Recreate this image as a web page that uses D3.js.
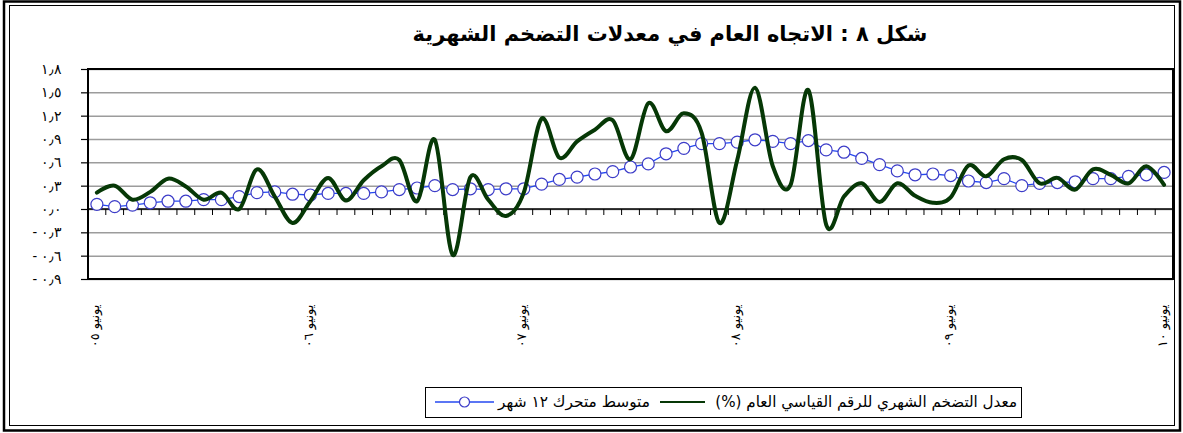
<!DOCTYPE html>
<meta charset="utf-8">
<head>
<style>
body { margin: 0; background: #fff; }
svg { display: block; font-family: "DejaVu Sans", sans-serif; }
.grid line { stroke: #9c9c9c; stroke-width: 1.5; }
.grid path, .yaxis path { display: none; }
.yaxis line { stroke: #000; stroke-width: 1.2; }
.yaxis text { font-size: 14px; fill: #000; letter-spacing: 1px; }
</style>
</head>
<body>
<div id="chart"></div>
<script src="https://d3js.org/d3.v7.min.js"></script>
<script>

// monthly inflation rate, general CPI (%) - June 05 .. June 10
var monthly = [0.21, 0.30, 0.12, 0.22, 0.39, 0.29, 0.12, 0.21, 0.00, 0.51,
               0.16, -0.18, 0.10, 0.40, 0.11, 0.37, 0.55, 0.63, 0.10, 0.89,
               -0.59, 0.41, 0.12, -0.09, 0.21, 1.16, 0.66, 0.87, 1.02, 1.14,
               0.64, 1.36, 1.00, 1.23, 0.98, -0.18, 0.63, 1.56, 0.55, 0.31,
               1.53, -0.20, 0.16, 0.33, 0.09, 0.33, 0.17, 0.08, 0.15, 0.56,
               0.42, 0.64, 0.63, 0.33, 0.40, 0.25, 0.51, 0.44, 0.33, 0.55, 0.31];

// 12 month moving average
var movingAvg = [0.06, 0.03, 0.05, 0.08, 0.10, 0.10, 0.12, 0.12, 0.16, 0.21,
                 0.22, 0.19, 0.18, 0.20, 0.20, 0.20, 0.22, 0.25, 0.27, 0.30,
                 0.25, 0.26, 0.25, 0.26, 0.26, 0.32, 0.38, 0.41, 0.45, 0.48,
                 0.54, 0.58, 0.71, 0.78, 0.84, 0.84, 0.86, 0.89, 0.87, 0.84,
                 0.88, 0.76, 0.73, 0.65, 0.57, 0.49, 0.44, 0.45, 0.43, 0.36,
                 0.34, 0.39, 0.30, 0.33, 0.34, 0.35, 0.39, 0.39, 0.42, 0.44, 0.47];

// a label every 12 months (June of each year)
var xLabels = ["يونيو ٠٥", "يونيو ٠٦", "يونيو ٠٧", "يونيو ٠٨", "يونيو ٠٩", "يونيو ١٠"];
var labelEvery = 12;

var yTicks = [-0.9, -0.6, -0.3, 0, 0.3, 0.6, 0.9, 1.2, 1.5, 1.8];

var title = "شكل ٨ : الاتجاه العام في معدلات التضخم الشهرية";
var seriesNames = ["معدل التضخم الشهري للرقم القياسي العام (%)", "متوسط متحرك ١٢ شهر"];

var W = 1183, H = 433;
var plot = {left: 88, right: 1173, top: 69, bottom: 279};

var svg = d3.select("#chart").append("svg")
    .attr("width", W)
    .attr("height", H);

// outer double frame
svg.append("rect").attr("x", 4).attr("y", 1.5).attr("width", 1176).attr("height", 429)
    .attr("fill", "none").attr("stroke", "#000").attr("stroke-width", 2.5);
svg.append("rect").attr("x", 9.5).attr("y", 5.5).attr("width", 1165).attr("height", 420)
    .attr("fill", "none").attr("stroke", "#000").attr("stroke-width", 1);

function arNum(s) {
  return String(s).replace(/[0-9]/g, function(d) { return "٠١٢٣٤٥٦٧٨٩"[d]; });
}
function fmtY(v) {
  var s = arNum(Math.abs(v).toFixed(1)).replace(".", "٫");
  return (v < -1e-9 ? "- " : "") + s;
}
// shrink/grow a text element so it spans a given width
function fit(sel, w) {
  var len = sel.node().getComputedTextLength();
  var fs = parseFloat(sel.attr("font-size"));
  sel.attr("font-size", fs * w / len);
}

var x = d3.scaleBand()
    .domain(d3.range(monthly.length))
    .range([plot.left, plot.right])
    .padding(0);
var bw = x.bandwidth();
function cx(i) { return x(i) + bw / 2; }

var y = d3.scaleLinear()
    .domain([-0.9, 1.8])
    .range([plot.bottom, plot.top]);

// gridlines
svg.append("g")
    .attr("class", "grid")
    .attr("transform", "translate(" + plot.left + ",0)")
    .call(d3.axisLeft(y).tickValues(yTicks).tickSize(-(plot.right - plot.left)).tickFormat(""));

// y axis
svg.append("g")
    .attr("class", "yaxis")
    .attr("transform", "translate(" + plot.left + ",0)")
    .call(d3.axisLeft(y).tickValues(yTicks).tickSize(7).tickPadding(19).tickFormat(fmtY));

// plot frame
svg.append("rect")
    .attr("x", plot.left).attr("y", plot.top)
    .attr("width", plot.right - plot.left).attr("height", plot.bottom - plot.top)
    .attr("fill", "none").attr("stroke", "#000").attr("stroke-width", 2);

// zero line + category ticks
var y0 = y(0);
svg.append("line")
    .attr("x1", plot.left).attr("x2", plot.right)
    .attr("y1", y0).attr("y2", y0)
    .attr("stroke", "#000").attr("stroke-width", 1.5);
svg.append("g").selectAll("line")
    .data(d3.range(1, monthly.length))
    .enter().append("line")
    .attr("x1", function(d) { return x(d); })
    .attr("x2", function(d) { return x(d); })
    .attr("y1", y0).attr("y2", y0 + 6)
    .attr("stroke", "#000").attr("stroke-width", 1);

// x labels, rotated
svg.append("g").selectAll("text")
    .data(xLabels)
    .enter().append("text")
    .attr("transform", function(d, i) {
      return "translate(" + (cx(i * labelEvery) - 2) + ",326) rotate(-90)";
    })
    .attr("dy", "0.35em")
    .attr("direction", "rtl")
    .attr("text-anchor", "middle")
    .attr("font-size", 13)
    .attr("letter-spacing", 1)
    .text(function(d) { return d; });

// moving average: thin blue line with hollow circles
var lineStraight = d3.line()
    .x(function(d, i) { return cx(i); })
    .y(function(d) { return y(d); });
svg.append("path")
    .datum(movingAvg)
    .attr("d", lineStraight)
    .attr("fill", "none")
    .attr("stroke", "#2448f0")
    .attr("stroke-width", 1.3);
svg.append("g").selectAll("circle")
    .data(movingAvg)
    .enter().append("circle")
    .attr("cx", function(d, i) { return cx(i); })
    .attr("cy", function(d) { return y(d); })
    .attr("r", 6)
    .attr("fill", "#fff")
    .attr("stroke", "#3c3cc8")
    .attr("stroke-width", 1.2);

// monthly inflation: smoothed thick dark green
var lineSmooth = d3.line()
    .x(function(d, i) { return cx(i); })
    .y(function(d) { return y(d); })
    .curve(d3.curveCardinal.tension(0));
svg.append("path")
    .datum(monthly)
    .attr("d", lineSmooth)
    .attr("fill", "none")
    .attr("stroke", "#063806")
    .attr("stroke-width", 4)
    .attr("stroke-linejoin", "round")
    .attr("stroke-linecap", "round");

// title
var t = svg.append("text")
    .attr("x", 670).attr("y", 41)
    .attr("direction", "rtl")
    .attr("text-anchor", "middle")
    .attr("font-size", 20)
    .attr("font-weight", "bold")
    .text(title);
fit(t, 515);

// legend
var lg = svg.append("g");
lg.append("rect")
    .attr("x", 425.5).attr("y", 387.5).attr("width", 596).attr("height", 30)
    .attr("fill", "#fff").attr("stroke", "#000").attr("stroke-width", 1);
var l1 = lg.append("text")
    .attr("x", 1017).attr("y", 407)
    .attr("direction", "rtl").attr("text-anchor", "start")
    .attr("font-size", 12)
    .text(seriesNames[0]);
fit(l1, 302);
lg.append("line")
    .attr("x1", 660).attr("x2", 705).attr("y1", 402).attr("y2", 402)
    .attr("stroke", "#063806").attr("stroke-width", 2);
var l2 = lg.append("text")
    .attr("x", 650).attr("y", 407)
    .attr("direction", "rtl").attr("text-anchor", "start")
    .attr("font-size", 12)
    .text(seriesNames[1]);
fit(l2, 152);
lg.append("line")
    .attr("x1", 435).attr("x2", 494).attr("y1", 402).attr("y2", 402)
    .attr("stroke", "#2448f0").attr("stroke-width", 1.3);
lg.append("circle")
    .attr("cx", 464.5).attr("cy", 402).attr("r", 5)
    .attr("fill", "#fff").attr("stroke", "#3c3cc8").attr("stroke-width", 1.2);

</script>
</body>
</html>
